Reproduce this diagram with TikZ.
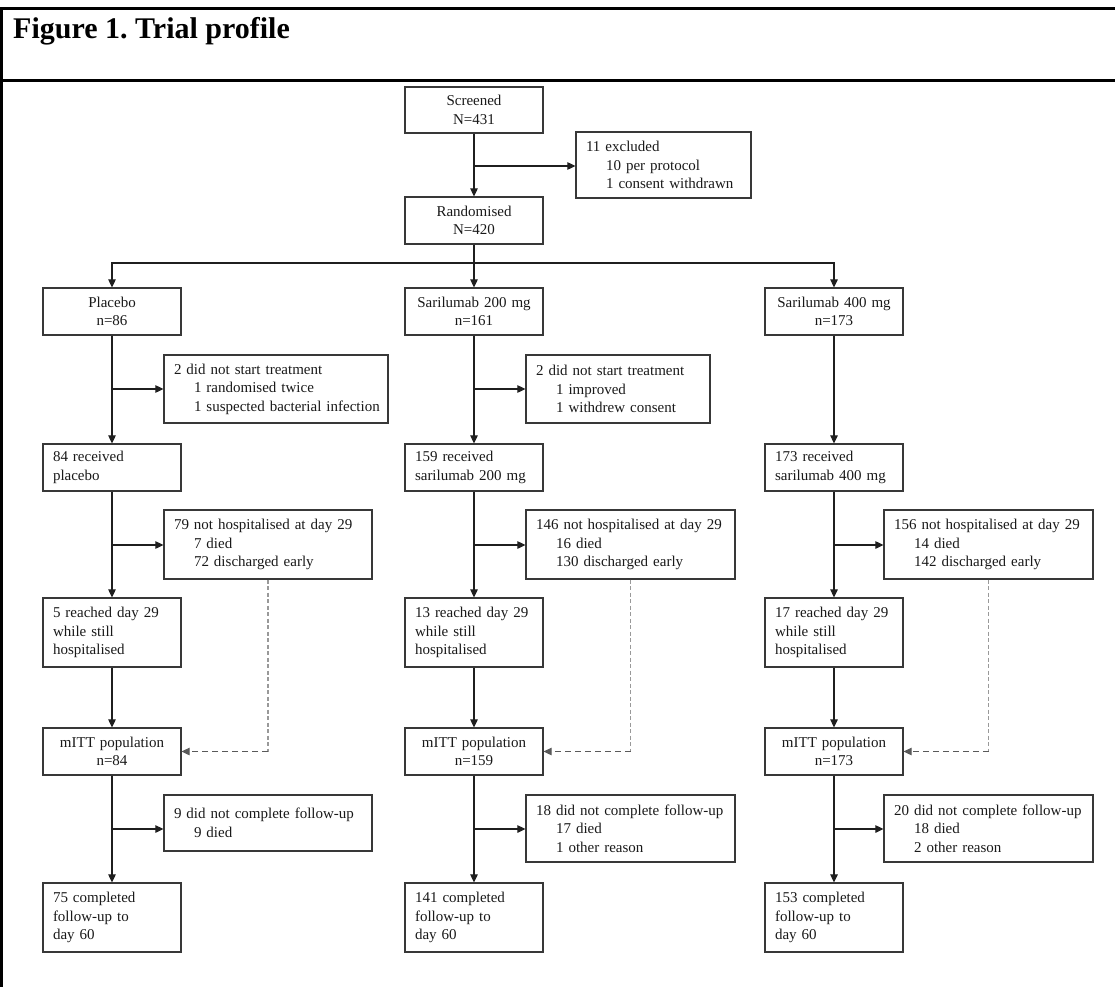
\documentclass[tikz,border=0pt]{standalone}
\usepackage{fontspec}
\setmainfont{Liberation Serif}
\usetikzlibrary{arrows.meta}
\frenchspacing
\tikzset{
  box/.style={draw=black!78, line width=1.2pt, rectangle, inner xsep=10pt, inner ysep=0pt,
    font=\fontsize{15}{18.6}\selectfont, text=black!90},
  lbox/.style={box, align=left},
  cbox/.style={box, align=center},
  arr/.style={draw=black!88, line width=1.1pt, -{Triangle[length=8pt,width=7.5pt]}},
  ln/.style={draw=black!88, line width=1.1pt},
  dashv/.style={draw=black!40, line width=1.1pt, dash pattern=on 4pt off 2.5pt},
  dashh/.style={draw=black!65, line width=1.1pt, dash pattern=on 6pt off 4pt, -{Triangle[length=8pt,width=7.5pt]}},
  frame/.style={line width=3pt, draw=black}
}
\newcommand{\ind}[1]{\mbox{\hspace*{20pt}#1}}
\begin{document}
\begin{tikzpicture}[x=1pt,y=-1pt]
\useasboundingbox (0,0) rectangle (1115,987);
% frame
\draw[frame] (0,8.8) -- (1115,8.8);
\draw[frame, line width=3.3pt] (0,80.5) -- (1115,80.5);
\draw[line width=2.7pt] (1.35,7.3) -- (1.35,987);
\node[anchor=base west, inner sep=0pt, font=\fontsize{30}{36}\selectfont\bfseries] (title) at (13,39) {Figure 1. Trial profile};

% top
\node[cbox, text width=118pt, minimum height=46pt] (screen) at (474,110) {Screened\\N=431};
\node[lbox, text width=155pt, minimum height=66pt] (excl) at (663.5,165) {11 excluded\\\ind{10 per protocol}\\\ind{1 consent withdrawn}};
\node[cbox, text width=118pt, minimum height=47pt] (rand) at (474,220.5) {Randomised\\N=420};
\coordinate (bexcl) at (474,166);
\draw[arr] (screen.south) -- (rand.north);
\draw[arr] (bexcl) -- (bexcl -| excl.west);

% arms
\node[cbox, text width=118pt, minimum height=47pt] (armA) at (112,311.5) {Placebo\\n=86};
\node[cbox, text width=118pt, minimum height=47pt] (armB) at (474,311.5) {Sarilumab 200 mg\\n=161};
\node[cbox, text width=118pt, minimum height=47pt] (armC) at (834,311.5) {Sarilumab 400 mg\\n=173};
\coordinate (dist) at (474,263);
\draw[ln] (rand.south) -- (dist);
\draw[arr] (dist) -| (armA.north);
\draw[arr] (dist) -| (armC.north);
\draw[arr] (dist) -- (armB.north);

% did not start
\node[lbox, text width=204pt, minimum height=68pt] (dnsA) at (276,389) {2 did not start treatment\\\ind{1 randomised twice}\\\ind{1 suspected bacterial infection}};
\node[lbox, text width=164pt, minimum height=68pt] (dnsB) at (618,389) {2 did not start treatment\\\ind{1 improved}\\\ind{1 withdrew consent}};

% received
\node[lbox, text width=118pt, minimum height=47pt] (recA) at (112,467.5) {84 received\\placebo};
\node[lbox, text width=118pt, minimum height=47pt] (recB) at (474,467.5) {159 received\\sarilumab 200 mg};
\node[lbox, text width=118pt, minimum height=47pt] (recC) at (834,467.5) {173 received\\sarilumab 400 mg};
\draw[arr] (armA.south) -- (recA.north);
\draw[arr] (armB.south) -- (recB.north);
\draw[arr] (armC.south) -- (recC.north);
\draw[arr] (armA.south |- dnsA.west) -- (dnsA.west);
\draw[arr] (armB.south |- dnsB.west) -- (dnsB.west);

% not hospitalised
\node[lbox, text width=188pt, minimum height=69pt] (nhA) at (268,544.5) {\mbox{79 not hospitalised at day 29}\\\ind{7 died}\\\ind{72 discharged early}};
\node[lbox, text width=189pt, minimum height=69pt] (nhB) at (630.5,544.5) {\mbox{146 not hospitalised at day 29}\\\ind{16 died}\\\ind{130 discharged early}};
\node[lbox, text width=189pt, minimum height=69pt] (nhC) at (988.5,544.5) {\mbox{156 not hospitalised at day 29}\\\ind{14 died}\\\ind{142 discharged early}};

% reached day 29
\node[lbox, text width=118pt, minimum height=69pt] (reA) at (112,632.5) {5 reached day 29\\while still\\hospitalised};
\node[lbox, text width=118pt, minimum height=69pt] (reB) at (474,632.5) {13 reached day 29\\while still\\hospitalised};
\node[lbox, text width=118pt, minimum height=69pt] (reC) at (834,632.5) {17 reached day 29\\while still\\hospitalised};
\draw[arr] (recA.south) -- (reA.north);
\draw[arr] (recB.south) -- (reB.north);
\draw[arr] (recC.south) -- (reC.north);
\coordinate (bnA) at (112,545);
\coordinate (bnB) at (474,545);
\coordinate (bnC) at (834,545);
\draw[arr] (bnA) -- (bnA -| nhA.west);
\draw[arr] (bnB) -- (bnB -| nhB.west);
\draw[arr] (bnC) -- (bnC -| nhC.west);

% mITT
\node[cbox, text width=118pt, minimum height=47pt] (mA) at (112,751.5) {mITT population\\n=84};
\node[cbox, text width=118pt, minimum height=47pt] (mB) at (474,751.5) {mITT population\\n=159};
\node[cbox, text width=118pt, minimum height=47pt] (mC) at (834,751.5) {mITT population\\n=173};
\draw[arr] (reA.south) -- (mA.north);
\draw[arr] (reB.south) -- (mB.north);
\draw[arr] (reC.south) -- (mC.north);
\coordinate (kA) at (nhA.south |- mA.east);
\coordinate (kB) at (nhB.south |- mB.east);
\coordinate (kC) at (nhC.south |- mC.east);
\draw[dashv] (nhA.south) -- (kA);
\draw[dashv] (nhB.south) -- (kB);
\draw[dashv] (nhC.south) -- (kC);
\draw[dashh] (kA) -- (mA.east);
\draw[dashh] (kB) -- (mB.east);
\draw[dashh] (kC) -- (mC.east);

% follow-up
\node[lbox, text width=188pt, minimum height=56pt] (fuA) at (268,823) {\mbox{9 did not complete follow-up}\\\ind{9 died}};
\node[lbox, text width=189pt, minimum height=67pt] (fuB) at (630.5,828.5) {\mbox{18 did not complete follow-up}\\\ind{17 died}\\\ind{1 other reason}};
\node[lbox, text width=189pt, minimum height=67pt] (fuC) at (988.5,828.5) {\mbox{20 did not complete follow-up}\\\ind{18 died}\\\ind{2 other reason}};

% completed
\node[lbox, text width=118pt, minimum height=69pt] (coA) at (112,917.5) {75 completed\\follow-up to\\day 60};
\node[lbox, text width=118pt, minimum height=69pt] (coB) at (474,917.5) {141 completed\\follow-up to\\day 60};
\node[lbox, text width=118pt, minimum height=69pt] (coC) at (834,917.5) {153 completed\\follow-up to\\day 60};
\draw[arr] (mA.south) -- (coA.north);
\draw[arr] (mB.south) -- (coB.north);
\draw[arr] (mC.south) -- (coC.north);
\coordinate (bfA) at (112,829);
\coordinate (bfB) at (474,829);
\coordinate (bfC) at (834,829);
\draw[arr] (bfA) -- (bfA -| fuA.west);
\draw[arr] (bfB) -- (bfB -| fuB.west);
\draw[arr] (bfC) -- (bfC -| fuC.west);
\end{tikzpicture}
\end{document}
